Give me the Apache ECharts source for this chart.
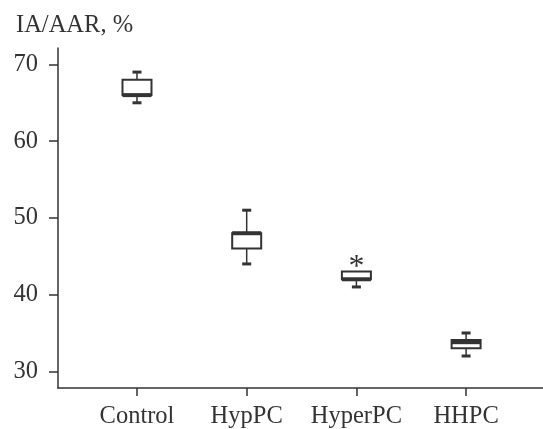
<!DOCTYPE html>
<html>
<head>
<meta charset="utf-8">
<script src="https://cdn.jsdelivr.net/npm/echarts@6/dist/echarts.min.js"></script>
<style>html,body{margin:0;padding:0;background:#fff}#c{width:543px;height:429px}</style>
</head>
<body>
<div id="c"></div>
<script>
const categories = ['Control', 'HypPC', 'HyperPC', 'HHPC'];
// [min, Q1, median, Q3, max]
const boxValues = [
  [65, 66, 66, 68, 69],
  [44, 46, 48, 48, 51],
  [41, 42, 42, 43, 43],
  [32, 33, 33.8, 34.1, 35]
];
const starMarks = [[3, 44.3]]; // asterisk above HyperPC
const yTicks = [30, 40, 50, 60, 70];
const xTicks = [1, 2, 3, 4];

const C = '#333333';
const FONT = 'Liberation Serif';
const FS = 24.5;
const chart = echarts.init(document.getElementById('c'));

const boxData = boxValues.map((v, i) => [i + 1].concat(v));

chart.setOption({
  animation: false,
  title: {
    text: 'IA/AAR, %', left: 11, top: 8,
    textStyle: { fontFamily: FONT, fontSize: FS, fontWeight: 'normal', color: C }
  },
  grid: { left: 58, right: 0, top: 48, bottom: 40 },
  xAxis: {
    type: 'value', min: 0.28, max: 4.701,
    splitLine: { show: false },
    axisLine: { show: true, lineStyle: { color: C, width: 1.5 } },
    axisTick: { show: true, length: 8, customValues: xTicks, lineStyle: { color: C, width: 1.5 } },
    axisLabel: {
      customValues: xTicks, margin: 16,
      formatter: v => categories[Math.round(v) - 1] || '',
      fontFamily: FONT, fontSize: FS, color: C
    }
  },
  yAxis: {
    type: 'value', min: 27.83, max: 72.14,
    splitLine: { show: false },
    axisLine: { show: true, lineStyle: { color: C, width: 1.5 } },
    axisTick: { show: true, length: 9, customValues: yTicks, lineStyle: { color: C, width: 1.5 } },
    axisLabel: { customValues: yTicks, margin: 20, fontFamily: FONT, fontSize: FS, color: C }
  },
  series: [
    {
      type: 'custom',
      data: boxData,
      renderItem: function (params, api) {
        const x = api.value(0);
        const pMin = api.coord([x, api.value(1)]);
        const pQ1 = api.coord([x, api.value(2)]);
        const pMed = api.coord([x, api.value(3)]);
        const pQ3 = api.coord([x, api.value(4)]);
        const pMax = api.coord([x, api.value(5)]);
        const cx = pMin[0];
        const hw = 14.5, cw = 4.5;
        const children = [];
        if (pMax[1] < pQ3[1] - 0.5) {
          children.push({ type: 'line', shape: { x1: cx, y1: pQ3[1], x2: cx, y2: pMax[1] }, style: { stroke: C, lineWidth: 1.5 } });
          children.push({ type: 'line', shape: { x1: cx - cw, y1: pMax[1], x2: cx + cw, y2: pMax[1] }, style: { stroke: C, lineWidth: 3 } });
        }
        if (pMin[1] > pQ1[1] + 0.5) {
          children.push({ type: 'line', shape: { x1: cx, y1: pQ1[1], x2: cx, y2: pMin[1] }, style: { stroke: C, lineWidth: 1.5 } });
          children.push({ type: 'line', shape: { x1: cx - cw, y1: pMin[1], x2: cx + cw, y2: pMin[1] }, style: { stroke: C, lineWidth: 3 } });
        }
        children.push({ type: 'rect', shape: { x: cx - hw, y: pQ3[1], width: hw * 2, height: pQ1[1] - pQ3[1] }, style: { stroke: C, lineWidth: 2, fill: '#fff' } });
        children.push({ type: 'line', shape: { x1: cx - hw, y1: pMed[1], x2: cx + hw, y2: pMed[1] }, style: { stroke: C, lineWidth: 4 } });
        return { type: 'group', children: children };
      }
    },
    {
      type: 'custom',
      data: starMarks,
      renderItem: function (params, api) {
        const p = api.coord([api.value(0), api.value(1)]);
        return {
          type: 'text',
          style: {
            text: '*', x: p[0], y: p[1] + 6, align: 'center', verticalAlign: 'middle',
            font: '32px "Liberation Serif"', fill: C
          }
        };
      }
    }
  ]
});
</script>
</body>
</html>
